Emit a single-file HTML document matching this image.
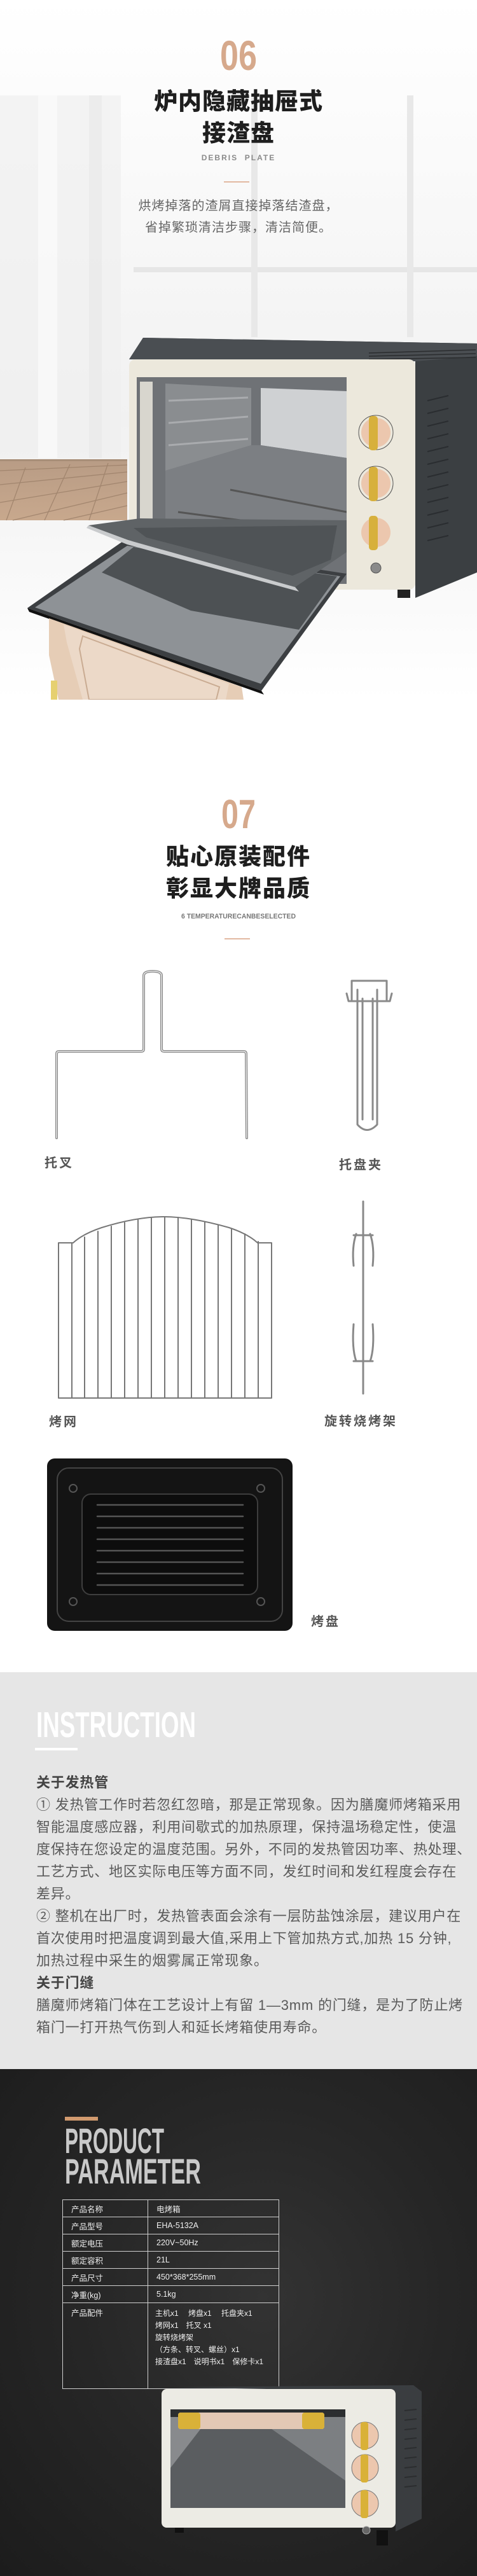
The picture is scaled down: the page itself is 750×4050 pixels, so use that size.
<!DOCTYPE html>
<html><head><meta charset="utf-8">
<style>
*{margin:0;padding:0;box-sizing:border-box}
body{width:750px;height:4050px;position:relative;background:#fff;overflow:hidden;font-family:"Liberation Sans","Noto Sans CJK SC",sans-serif}
.a{position:absolute}
.cn{font-family:"Liberation Sans","Noto Sans CJK SC",sans-serif}
.lbl{position:absolute;font-size:20px;font-weight:bold;color:#555;letter-spacing:3px;line-height:1}
.ins{position:absolute;left:57px;width:700px;font-size:22px;color:#5a5a5a;letter-spacing:0.8px;line-height:35px;white-space:nowrap}
.ins b{color:#444}
table{border-collapse:collapse}
td{border:1.5px solid #cfcfcf;color:#f0f0f0;font-size:12.5px;padding:0 0 0 13px;height:27px;vertical-align:middle}
</style></head><body>

<!-- SECTION 1 background -->
<svg class="a" style="left:0;top:0" width="750" height="1100">
  <defs>
    <linearGradient id="bg1" x1="0" y1="0" x2="0" y2="1">
      <stop offset="0" stop-color="#fff"/>
      <stop offset="0.18" stop-color="#fbfbfb"/>
      <stop offset="0.6" stop-color="#f1f1f1"/>
      <stop offset="0.75" stop-color="#f6f6f6"/>
      <stop offset="1" stop-color="#fff"/>
    </linearGradient>
    <linearGradient id="floor" x1="0" y1="0" x2="0" y2="1">
      <stop offset="0" stop-color="#b89c85"/><stop offset="1" stop-color="#c8a88d"/>
    </linearGradient>
  </defs>
  <rect width="750" height="1100" fill="url(#bg1)"/>
  <rect x="0" y="150" width="190" height="570" fill="#f0f0f0" opacity="0.7"/>
  <rect x="60" y="150" width="30" height="570" fill="#fafafa" opacity="0.8"/>
  <rect x="140" y="150" width="20" height="570" fill="#e8e8e8" opacity="0.6"/>
  <rect x="210" y="420" width="540" height="8" fill="#e6e6e6"/>
  <rect x="395" y="150" width="10" height="380" fill="#e8e8e8"/>
  <rect x="640" y="150" width="10" height="380" fill="#e8e8e8"/>
  <rect x="0" y="722" width="200" height="96" fill="url(#floor)"/>
  <g stroke="#9b7f68" stroke-width="1.3" opacity="0.8">
    <line x1="0" y1="740" x2="200" y2="731"/><line x1="0" y1="762" x2="200" y2="742"/>
    <line x1="0" y1="790" x2="200" y2="757"/><line x1="20" y1="818" x2="200" y2="775"/>
    <line x1="100" y1="818" x2="200" y2="795"/>
    <line x1="40" y1="735" x2="10" y2="818"/><line x1="110" y1="730" x2="70" y2="818"/>
    <line x1="170" y1="728" x2="140" y2="818"/>
  </g>
  <rect x="0" y="722" width="200" height="3" fill="#a88e78"/>

  <!-- oven 1 -->
  <polygon points="225,531 750,540 750,900 653,940 653,565 203,565" fill="#3b3f42"/>
  <polygon points="225,531 750,540 750,560 653,568 203,565" fill="#4a4e52"/>
  <g stroke="#2a2c2e" stroke-width="1.5">
    <line x1="580" y1="555" x2="748" y2="550"/><line x1="580" y1="560" x2="748" y2="556"/><line x1="580" y1="565" x2="748" y2="562"/>
  </g>
  <g stroke="#2a2d30" stroke-width="2">
    <line x1="672" y1="630" x2="705" y2="622"/><line x1="672" y1="650" x2="705" y2="642"/><line x1="672" y1="670" x2="705" y2="662"/>
    <line x1="672" y1="690" x2="705" y2="682"/><line x1="672" y1="710" x2="705" y2="702"/><line x1="672" y1="730" x2="705" y2="722"/>
    <line x1="672" y1="750" x2="705" y2="742"/><line x1="672" y1="770" x2="705" y2="762"/><line x1="672" y1="790" x2="705" y2="782"/>
    <line x1="672" y1="810" x2="705" y2="802"/><line x1="672" y1="830" x2="705" y2="822"/><line x1="672" y1="850" x2="705" y2="842"/>
  </g>
  <rect x="203" y="565" width="450" height="362" rx="10" fill="#ece8dc"/>
  <rect x="215" y="593" width="330" height="325" fill="#6f7276"/>
  <polygon points="260,603 395,610 395,700 260,740" fill="#8a8d90"/>
  <polygon points="410,610 545,615 545,720 410,700" fill="#cfd1d3"/>
  <polygon points="410,700 545,720 545,760 390,740" fill="#9a9ca0"/>
  <polygon points="260,740 395,700 410,700 545,720 545,820 260,820" fill="#7c7f83"/>
  <g stroke="#a9abae" stroke-width="3">
    <line x1="265" y1="630" x2="390" y2="625"/><line x1="265" y1="665" x2="390" y2="655"/><line x1="265" y1="700" x2="390" y2="690"/>
  </g>
  <line x1="280" y1="805" x2="545" y2="840" stroke="#555" stroke-width="3"/>
  <line x1="362" y1="770" x2="545" y2="805" stroke="#555" stroke-width="3"/>
  <rect x="220" y="600" width="20" height="300" fill="#d8d6ce"/>
  <rect x="545" y="590" width="108" height="330" fill="#ece8dc"/>
  <g>
    <circle cx="591" cy="680" r="27" fill="none" stroke="#555" stroke-width="1"/>
    <circle cx="591" cy="680" r="23" fill="#ecc7ae"/>
    <rect x="580" y="654" width="14" height="54" rx="5" fill="#d7b03c"/>
    <circle cx="591" cy="760" r="27" fill="none" stroke="#555" stroke-width="1"/>
    <circle cx="591" cy="760" r="23" fill="#ecc7ae"/>
    <rect x="580" y="734" width="14" height="54" rx="5" fill="#d7b03c"/>
    <circle cx="591" cy="837" r="23" fill="#ecc7ae"/>
    <rect x="580" y="811" width="14" height="54" rx="5" fill="#d7b03c"/>
    <circle cx="591" cy="893" r="8" fill="#8a8a8a" stroke="#555"/>
  </g>
  <rect x="625" y="927" width="20" height="13" fill="#222"/>
  <!-- door -->
  <polygon points="43,956 196,849 545,902 411,1086" fill="#3c3f42"/>
  <polygon points="55,955 200,858 535,906 410,1075" fill="#8e9296"/>
  <polygon points="160,900 210,860 530,906 470,990 300,960" fill="#4d5154"/>
  <polygon points="43,956 411,1086 415,1092 46,962" fill="#111"/>
  <polygon points="77,972 380,1080 383,1100 92,1100 77,1030" fill="#e6cdb6"/>
  <polygon points="100,982 360,1075 355,1100 130,1100 105,1010" fill="#f6f2ec" opacity="0.35"/>
  <polygon points="130,1000 345,1080 340,1100 140,1100 125,1020" fill="none" stroke="#c9ab92" stroke-width="2"/>
  <rect x="80" y="1070" width="10" height="30" fill="#e6d070"/>
  <!-- tray -->
  <polygon points="139,826 201,849 464,923 545,868 545,818 220,815" fill="#5f6366"/>
  <polygon points="139,826 201,849 464,923 470,930 200,856 136,830" fill="#c9cbcd"/>
  <polygon points="210,830 530,826 520,880 460,905 230,845" fill="#4f5356"/>
</svg>

<svg class="a" style="left:0;top:58" width="750" height="56">
  <text x="375" y="52" text-anchor="middle" font-family="Liberation Sans Narrow, Liberation Sans, sans-serif" font-weight="bold" font-size="66" fill="#d6a98c" textLength="58" lengthAdjust="spacingAndGlyphs">06</text>
</svg>
<div class="a cn" style="left:0;width:750px;top:135px;text-align:center;font-size:37px;font-weight:900;color:#1e1e1e;line-height:50px;letter-spacing:1px">炉内隐藏抽屉式<br>接渣盘</div>
<div class="a" style="left:0;width:750px;top:241px;text-align:center;font-size:12px;color:#8a8a8a;letter-spacing:2px;font-weight:bold">DEBRIS&nbsp;&nbsp;PLATE</div>
<div class="a" style="left:352px;top:285px;width:40px;height:2px;background:#e2b9a2"></div>
<div class="a cn" style="left:0;width:750px;top:307px;text-align:center;font-size:20px;color:#666;line-height:34px;letter-spacing:1px">烘烤掉落的渣屑直接掉落结渣盘，<br>省掉繁琐清洁步骤，清洁简便。</div>

<!-- SECTION 2 -->
<svg class="a" style="left:0;top:1250" width="750" height="56">
  <text x="375" y="52" text-anchor="middle" font-family="Liberation Sans Narrow, Liberation Sans, sans-serif" font-weight="bold" font-size="64" fill="#d6a98c" textLength="54" lengthAdjust="spacingAndGlyphs">07</text>
</svg>
<div class="a cn" style="left:0;width:750px;top:1322px;text-align:center;font-size:36px;font-weight:900;color:#1e1e1e;line-height:50px;letter-spacing:2px">贴心原装配件<br>彰显大牌品质</div>
<svg class="a" style="left:0;top:1432" width="750" height="16">
  <text x="375" y="12" text-anchor="middle" font-family="Liberation Sans Narrow, Liberation Sans, sans-serif" font-size="11" font-weight="bold" fill="#777" textLength="180" lengthAdjust="spacingAndGlyphs">6 TEMPERATURECANBESELECTED</text>
</svg>
<div class="a" style="left:353px;top:1475px;width:40px;height:2px;background:#e2b9a2"></div>

<svg class="a" style="left:0;top:1500" width="750" height="1100">
  <g fill="none" stroke-linecap="round" stroke-linejoin="round">
    <path d="M89,289 L89,157 Q89,153 93,153 L222,153 Q226,153 226,149 L226,34 Q226,27 240,27 Q254,27 254,34 L254,149 Q254,153 258,153 L383,153 Q387,153 387,157 L388,289" stroke="#888" stroke-width="4"/>
    <path d="M89,289 L89,157 Q89,153 93,153 L222,153 Q226,153 226,149 L226,34 Q226,27 240,27 Q254,27 254,34 L254,149 Q254,153 258,153 L383,153 Q387,153 387,157 L388,289" stroke="#e8e8e8" stroke-width="1.5"/>
    <g stroke="#8a8a8a" stroke-width="3">
      <path d="M553,72 L553,42 L608,42 L608,72"/>
      <path d="M545,62 L548,74 L613,74 L616,62"/>
      <path d="M562,56 L562,268 Q577,285 593,268 L593,56"/>
      <path d="M570,70 L570,260 M586,70 L586,260"/>
    </g>
    <g stroke="#777" stroke-width="2">
      <path d="M92,454 L92,698 L427,698 L427,454 L405,454 Q390,440 360,430 Q300,413 258,413 Q215,413 160,430 Q130,440 115,454 Z"/>
      <path d="M113,454 L113,698 M133,445 L133,698 M154,436 L154,698 M175,428 L175,698 M196,422 L196,698 M217,418 L217,698 M238,415 L238,698 M259,413 L259,698 M280,414 L280,698 M301,417 L301,698 M322,421 L322,698 M343,426 L343,698 M364,432 L364,698 M385,440 L385,698 M406,452 L406,698"/>
    </g>
    <g stroke="#888" stroke-width="3">
      <line x1="571" y1="389" x2="571" y2="691"/>
      <path d="M560,440 Q553,460 556,490 M582,440 Q589,460 586,490 M556,442 L586,442"/>
      <path d="M560,640 Q553,620 556,582 M582,640 Q589,620 586,582 M556,640 L586,640"/>
    </g>
  </g>
  <rect x="74" y="793" width="386" height="271" rx="12" fill="#141414"/>
  <rect x="90" y="808" width="354" height="241" rx="18" fill="none" stroke="#444" stroke-width="2"/>
  <rect x="129" y="849" width="276" height="158" rx="14" fill="#0d0d0d" stroke="#3e3e3e" stroke-width="2"/>
  <g stroke="#555" stroke-width="2.5" stroke-linecap="round">
    <line x1="153" y1="866" x2="382" y2="866"/><line x1="153" y1="884" x2="382" y2="884"/><line x1="153" y1="902" x2="382" y2="902"/>
    <line x1="153" y1="920" x2="382" y2="920"/><line x1="153" y1="938" x2="382" y2="938"/><line x1="153" y1="956" x2="382" y2="956"/>
    <line x1="153" y1="974" x2="382" y2="974"/><line x1="153" y1="992" x2="382" y2="992"/>
  </g>
  <g fill="none" stroke="#555" stroke-width="2">
    <circle cx="115" cy="840" r="6"/><circle cx="410" cy="840" r="6"/><circle cx="115" cy="1018" r="6"/><circle cx="410" cy="1018" r="6"/>
  </g>
</svg>
<div class="lbl cn" style="left:70px;top:1819px">托叉</div>
<div class="lbl cn" style="left:533px;top:1822px">托盘夹</div>
<div class="lbl cn" style="left:77px;top:2226px">烤网</div>
<div class="lbl cn" style="left:510px;top:2225px">旋转烧烤架</div>
<div class="lbl cn" style="left:489px;top:2540px">烤盘</div>

<!-- SECTION 3 -->
<div class="a" style="left:0;top:2629px;width:750px;height:624px;background:#e6e6e6"></div>
<svg class="a" style="left:0;top:2686" width="750" height="50">
  <text x="57" y="45" font-family="Liberation Sans Narrow, Liberation Sans, sans-serif" font-weight="bold" font-size="57" fill="#fff" textLength="251" lengthAdjust="spacingAndGlyphs">INSTRUCTION</text>
</svg>
<div class="a" style="left:55px;top:2748px;width:67px;height:4px;background:#fff"></div>
<div class="ins cn" style="top:2785px">
<b>关于发热管</b><br>
① 发热管工作时若忽红忽暗，那是正常现象。因为膳魔师烤箱采用<br>
智能温度感应器，利用间歇式的加热原理，保持温场稳定性，使温<br>
度保持在您设定的温度范围。另外，不同的发热管因功率、热处理、<br>
工艺方式、地区实际电压等方面不同，发红时间和发红程度会存在<br>
差异。<br>
② 整机在出厂时，发热管表面会涂有一层防盐蚀涂层，建议用户在<br>
首次使用时把温度调到最大值,采用上下管加热方式,加热 15 分钟,<br>
加热过程中采生的烟雾属正常现象。<br>
<b>关于门缝</b><br>
膳魔师烤箱门体在工艺设计上有留 1—3mm 的门缝，是为了防止烤<br>
箱门一打开热气伤到人和延长烤箱使用寿命。
</div>

<!-- SECTION 4 -->
<div class="a" style="left:0;top:3253px;width:750px;height:797px;background:radial-gradient(ellipse at 55% 45%,#333 0%,#262626 50%,#1c1c1c 100%)"></div>
<div class="a" style="left:102px;top:3328px;width:52px;height:6px;background:#d19a6e"></div>
<svg class="a" style="left:0;top:3340" width="750" height="100">
  <text x="102" y="45" font-family="Liberation Sans Narrow, Liberation Sans, sans-serif" font-weight="bold" font-size="56" fill="#c9c9c9" textLength="156" lengthAdjust="spacingAndGlyphs">PRODUCT</text>
  <text x="102" y="93" font-family="Liberation Sans Narrow, Liberation Sans, sans-serif" font-weight="bold" font-size="56" fill="#c9c9c9" textLength="214" lengthAdjust="spacingAndGlyphs">PARAMETER</text>
</svg>
<table class="a cn" style="left:98px;top:3458px;width:341px">
<tr><td style="width:134px">产品名称</td><td>电烤箱</td></tr>
<tr><td>产品型号</td><td>EHA-5132A</td></tr>
<tr><td>额定电压</td><td>220V~50Hz</td></tr>
<tr><td>额定容积</td><td>21L</td></tr>
<tr><td>产品尺寸</td><td>450*368*255mm</td></tr>
<tr><td>净重(kg)</td><td>5.1kg</td></tr>
<tr><td style="height:135px;vertical-align:top;padding-top:5px">产品配件</td><td style="vertical-align:top;padding-top:7px;padding-left:11px;line-height:19px;font-size:12px">主机x1　 烤盘x1　 托盘夹x1<br>烤网x1　托叉 x1<br>旋转烧烤架<br>（方条、转叉、螺丝）x1<br>接渣盘x1　说明书x1　保修卡x1</td></tr>
</table>
<svg class="a" style="left:0;top:3740" width="750" height="280">
  <polygon points="270,13 650,10 663,20 663,220 622,240 622,20" fill="#3a3d40"/>
  <g stroke="#2b2d2f" stroke-width="2">
    <line x1="636" y1="50" x2="655" y2="48"/><line x1="636" y1="65" x2="655" y2="63"/><line x1="636" y1="80" x2="655" y2="78"/>
    <line x1="636" y1="95" x2="655" y2="93"/><line x1="636" y1="110" x2="655" y2="108"/><line x1="636" y1="125" x2="655" y2="123"/>
    <line x1="636" y1="140" x2="655" y2="138"/><line x1="636" y1="155" x2="655" y2="153"/><line x1="636" y1="170" x2="655" y2="168"/>
  </g>
  <rect x="254" y="16" width="368" height="218" rx="8" fill="#ecebe4"/>
  <rect x="268" y="48" width="275" height="171" fill="#2c2e30"/>
  <rect x="268" y="60" width="275" height="150" fill="#7c7f82"/>
  <polygon points="268,60 400,60 543,160 543,210 268,210" fill="#5a5d60"/>
  <polygon points="268,60 330,60 268,140" fill="#a6a9ac" opacity="0.6"/>
  <rect x="268" y="203" width="275" height="30" fill="#ecebe4"/>
  <rect x="280" y="53" width="230" height="26" rx="4" fill="#e3c8b5"/>
  <rect x="280" y="53" width="35" height="26" rx="4" fill="#d9b138"/>
  <rect x="475" y="53" width="35" height="26" rx="4" fill="#d9b138"/>
  <g>
    <circle cx="574" cy="89" r="21" fill="#ecc7ae" stroke="#777"/>
    <rect x="567" y="68" width="12" height="44" rx="4" fill="#d9b138"/>
    <circle cx="574" cy="140" r="21" fill="#ecc7ae" stroke="#777"/>
    <rect x="567" y="119" width="12" height="44" rx="4" fill="#d9b138"/>
    <circle cx="574" cy="196" r="21" fill="#ecc7ae" stroke="#777"/>
    <rect x="567" y="175" width="12" height="44" rx="4" fill="#d9b138"/>
    <circle cx="576" cy="238" r="6" fill="#666" stroke="#aaa"/>
  </g>
  <rect x="275" y="234" width="14" height="8" fill="#111"/>
  <rect x="592" y="238" width="18" height="24" fill="#111"/>
</svg>
</body></html>
